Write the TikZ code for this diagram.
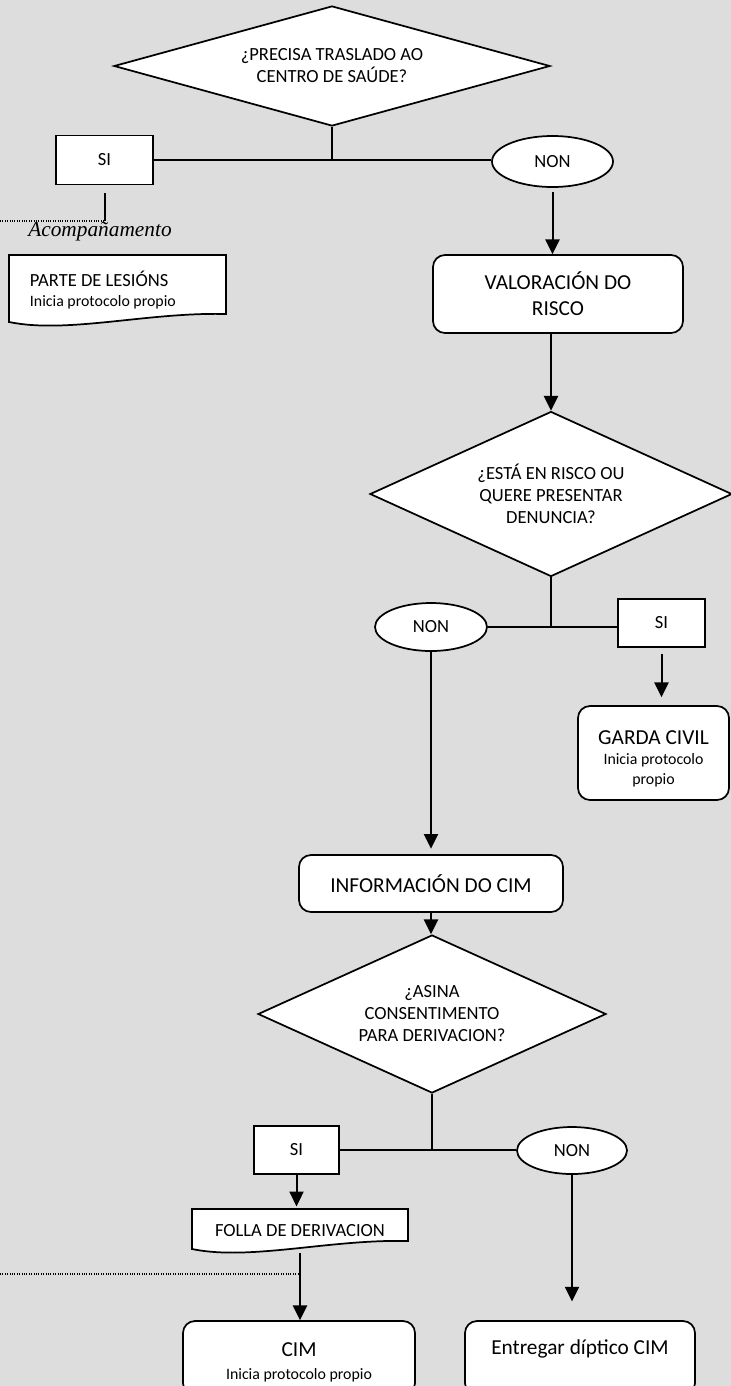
\documentclass[tikz,border=0pt]{standalone}
\usepackage{fontspec}
\setmainfont{Carlito}
\newfontfamily\serifnote{Liberation Serif}
\usetikzlibrary{arrows.meta,calc,shapes.geometric,backgrounds}
\definecolor{bggray}{HTML}{DDDDDD}
\newcommand\fntmain{\fontsize{13.9pt}{16.5pt}\selectfont}
\newcommand\fntbig{\fontsize{16pt}{19.5pt}\selectfont}
\newcommand\fntsmall{\fontsize{11.9pt}{15pt}\selectfont}
\newcommand\fntacomp{\fontsize{16pt}{19pt}\serifnote\itshape}
\def\docwave(#1){\draw[shapeline] (#1.north west) -- (#1.north east) -- ($(#1.south east)+(0,-12)$) .. controls ($(#1.south)+(30,-14)$) and ($(#1.south)+(-50,8)$) .. ($(#1.south west)+(0,-4)$) -- cycle;}
\tikzset{
  shapeline/.style={draw=black, line width=1.3pt, fill=white},
  ask/.style={diamond, shapeline, inner sep=0pt, align=center, font=\fntmain},
  yesbox/.style={rectangle, shapeline, inner sep=0pt, font=\fntmain},
  nooval/.style={ellipse, shapeline, inner sep=0pt, font=\fntmain},
  stepbox/.style={rectangle, rounded corners=9pt, shapeline, align=center, inner sep=0pt, font=\fntbig},
  docbox/.style={rectangle, inner sep=0pt, outer sep=0pt, font=\fntmain},
  link/.style={line width=1.5pt},
  flow/.style={link, -{Triangle[length=11pt,width=10.5pt]}},
  note/.style={densely dotted, line width=0.8pt}
}

\begin{document}
\begin{tikzpicture}[x=0.75pt,y=-0.75pt]
			%%%%% BACKGROUND %%%%%
			\begin{scope}[on background layer]
			\fill[bggray] (0,0) rectangle (731,1386);
			\end{scope}
			\useasboundingbox (0,0) rectangle (731,1386);
			
			%%%%% TRASLADO %%%%%
			\node[ask, aspect=3.63, minimum width=327pt, minimum height=90pt] (trasl) at (332,66) {¿PRECISA TRASLADO AO\\CENTRO DE SAÚDE?};
			\node[yesbox, minimum width=72.75pt, minimum height=36.75pt] (si1) at (104.5,160) {SI};
			\node[nooval, minimum width=90.75pt, minimum height=38.25pt] (non1) at (552.5,161.5) {NON};
			\coordinate (acomp) at (104.5,221);
			\coordinate (edge1) at (0,221);
			\node[font=\fntacomp] (acompt) at (100,232) {Acompañamento};
			\node[docbox, minimum width=162.75pt, minimum height=53.25pt, text width=131.25pt, align=flush left] (lesions) at (117.5,290.5) {PARTE DE LESIÓNS\\[-1.5pt]{\fntsmall Inicia protocolo propio}};
			
			\draw[link] (trasl.south) -- (trasl.south |- si1.east);
			\draw[link] (si1.east) -- (si1.east -| non1.west);
			\draw[link, shorten <=6pt] (si1.south) -- (acomp);
			\draw[note] (edge1) -- (acomp);
			
			%%%%% RISCO %%%%%
			\node[stepbox, minimum width=187.5pt, minimum height=58.5pt] (valor) at (558,294) {VALORACIÓN DO\\RISCO};
			\node[ask, aspect=2.19, minimum width=271.5pt, minimum height=123.75pt] (risco) at (551,494) {¿ESTÁ EN RISCO OU\\QUERE PRESENTAR\\DENUNCIA?};
			\node[nooval, minimum width=84pt, minimum height=36pt] (non2) at (431,627) {NON};
			\node[yesbox, minimum width=65.25pt, minimum height=36pt] (si2) at (661.5,623) {SI};
			\node[stepbox, font=\fntsmall, minimum width=113.25pt, minimum height=70.5pt] (garda) at (653.5,753) {\rule{0pt}{19pt}{\fntbig GARDA CIVIL}\\[0pt]Inicia protocolo\\[-0.5pt]propio};
			
			\draw[flow, shorten <=3pt] (non1.south) -- (non1.south |- valor.north);
			\draw[flow] (valor.south -| risco.north) -- (risco.north);
			\draw[link] (risco.south) -- (risco.south |- non2.east);
			\draw[link] (non2.east) -- (non2.east -| si2.west);
			\draw[flow, shorten <=4.5pt, shorten >=6pt] (si2.south) -- (si2.south |- garda.north);
			
			%%%%% CIM %%%%%
			\node[stepbox, minimum width=198pt, minimum height=42.75pt] (info) at (431,883.5) {INFORMACIÓN DO CIM};
			\node[ask, aspect=2.2, minimum width=261pt, minimum height=118.5pt] (consent) at (432,1014) {¿ASINA\\CONSENTIMENTO\\PARA DERIVACION?};
			\node[yesbox, minimum width=63.75pt, minimum height=36pt] (si3) at (296.5,1150) {SI};
			\node[nooval, minimum width=82.5pt, minimum height=35.25pt] (non3) at (572,1150.5) {NON};
			\node[docbox, minimum width=162pt, minimum height=33pt] (folla) at (300,1231) {FOLLA DE DERIVACION};
			\coordinate (edge2) at (0,1274);
			\node[stepbox, font=\fntsmall, minimum width=174pt, minimum height=55.5pt] (cim) at (299,1358) {\rule{0pt}{17pt}{\fntbig CIM}\\[2pt]Inicia protocolo propio};
			\node[stepbox, minimum width=172.5pt, minimum height=55.5pt, text depth=16.5pt] (folleto) at (580,1358) {Entregar díptico CIM};
			
			\draw[flow, shorten >=4pt] (non2.south) -- (non2.south |- info.north);
			\draw[flow] (info.south) -- (info.south |- consent.north);
			\draw[link] (consent.south) -- (consent.south |- si3.east);
			\draw[link] (si3.east) -- (si3.east -| non3.west);
			\draw[flow, shorten >=2pt] (si3.south) -- (si3.south |- folla.north);
			\draw[flow] (folla.south) -- (folla.south |- cim.north);
			\draw[note] (edge2) -- (edge2 -| folla.south);
			\draw[flow, shorten >=14pt] (non3.south) -- (non3.south |- folleto.north);
			
			%%%%% DOCUMENTS %%%%%
			\begin{scope}[on background layer]
			\docwave(lesions)
			\docwave(folla)
			\end{scope}
		\end{tikzpicture}
\end{document}
